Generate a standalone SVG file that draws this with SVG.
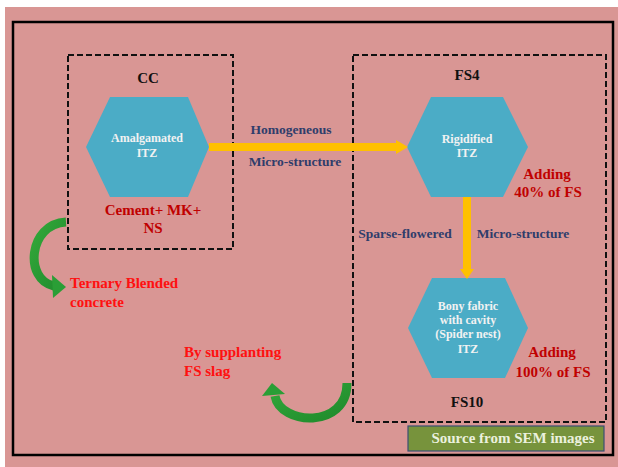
<svg xmlns="http://www.w3.org/2000/svg" width="618" height="467" viewBox="0 0 618 467">
  <style>
    text { font-family: "Liberation Serif", "Times New Roman", serif; font-weight: bold; }
    .hex { fill: #4bacc6; }
    .hex-text { fill: #f2f2f2; font-size: 12px; text-anchor: middle; }
    .group-box { fill: none; stroke: #111; stroke-width: 2; stroke-dasharray: 6 3; }
    .title { fill: #111; font-size: 15px; text-anchor: middle; }
    .note-dark { fill: #c00000; font-size: 15px; text-anchor: middle; }
    .note-red { fill: #ff1010; font-size: 15px; }
    .label { fill: #2f3d6b; font-size: 13.5px; text-anchor: middle; }
    .flow { stroke: #ffc000; stroke-width: 8; fill: none; }
    .flow-head { fill: #ffc000; }
    .bend { fill: none; stroke: url(#greenGrad); stroke-width: 9; }
    .bend-head { fill: #2a9e36; }
  </style>
  <defs>
    <linearGradient id="greenGrad" x1="0" y1="0" x2="1" y2="1">
      <stop offset="0" stop-color="#33a83a"/>
      <stop offset="1" stop-color="#1f8a2c"/>
    </linearGradient>
  </defs>

  <!-- page background and frame -->
  <rect x="5" y="7" width="613" height="460" fill="#d99694"/>
  <rect x="13" y="22" width="600" height="433" fill="none" stroke="#000" stroke-width="2.5"/>

  <!-- CC group -->
  <g id="cc-group">
    <rect class="group-box" x="68" y="55" width="165" height="194"/>
    <text class="title" x="148" y="83">CC</text>
    <text class="note-dark" x="153" y="215">Cement+ MK+</text>
    <text class="note-dark" x="153" y="233">NS</text>
  </g>

  <!-- FS group -->
  <g id="fs-group">
    <rect class="group-box" x="353" y="55" width="253" height="367"/>
    <text class="title" x="467" y="80">FS4</text>
    <text class="title" x="467" y="407">FS10</text>
  </g>

  <g id="node-amalgamated">
    <polygon class="hex" points="110,97 188,97 209,147 188,197 110,197 86,147"/>
    <text class="hex-text" x="147" y="142">Amalgamated</text>
    <text class="hex-text" x="147" y="157">ITZ</text>
  </g>

  <g id="node-rigidified">
    <polygon class="hex" points="431,97 503,97 528,147 503,197 431,197 407,147"/>
    <text class="hex-text" x="467" y="143">Rigidified</text>
    <text class="hex-text" x="467" y="157">ITZ</text>
    <text class="note-dark" x="547" y="179">Adding</text>
    <text class="note-dark" x="548" y="197">40% of FS</text>
  </g>

  <g id="node-bony">
    <polygon class="hex" points="432,278 505,278 528,328 505,378 432,378 408,328"/>
    <text class="hex-text" x="468" y="310">Bony fabric</text>
    <text class="hex-text" x="468" y="324">with cavity</text>
    <text class="hex-text" x="468" y="338">(Spider nest)</text>
    <text class="hex-text" x="468" y="353">ITZ</text>
    <text class="note-dark" x="552" y="357">Adding</text>
    <text class="note-dark" x="553" y="377">100% of FS</text>
  </g>

  <g id="note-ternary">
    <text class="note-red" x="70" y="288">Ternary Blended</text>
    <text class="note-red" x="70" y="307">concrete</text>
  </g>

  <g id="note-supplanting">
    <text class="note-red" x="184" y="357">By supplanting</text>
    <text class="note-red" x="184" y="376">FS slag</text>
  </g>

  <g id="source-tag">
    <rect x="408" y="426" width="196" height="25" fill="#77933c" stroke="#3b4f73" stroke-width="1.2"/>
    <text x="513" y="443" fill="#ebf1de" font-size="15" text-anchor="middle">Source from SEM images</text>
  </g>

  <!-- connectors -->
  <g id="connectors">
    <line class="flow" x1="209" y1="147" x2="398" y2="147"/>
    <polygon class="flow-head" points="396,140 408,147 396,154"/>
    <text class="label" x="291" y="134">Homogeneous</text>
    <text class="label" x="295" y="166">Micro-structure</text>

    <line class="flow" x1="467" y1="197" x2="467" y2="271"/>
    <polygon class="flow-head" points="460,269 474,269 467,279"/>
    <text class="label" x="405" y="238">Sparse-flowered</text>
    <text class="label" x="523" y="238">Micro-structure</text>

    <path class="bend" d="M66,222 C28,224 24,280 54,286"/>
    <polygon class="bend-head" points="52,275 66,287 53,298"/>

    <path class="bend" d="M347,383 C347,430 280,425 275,396"/>
    <polygon class="bend-head" points="272,383 262,396 285,394"/>
  </g>
</svg>
